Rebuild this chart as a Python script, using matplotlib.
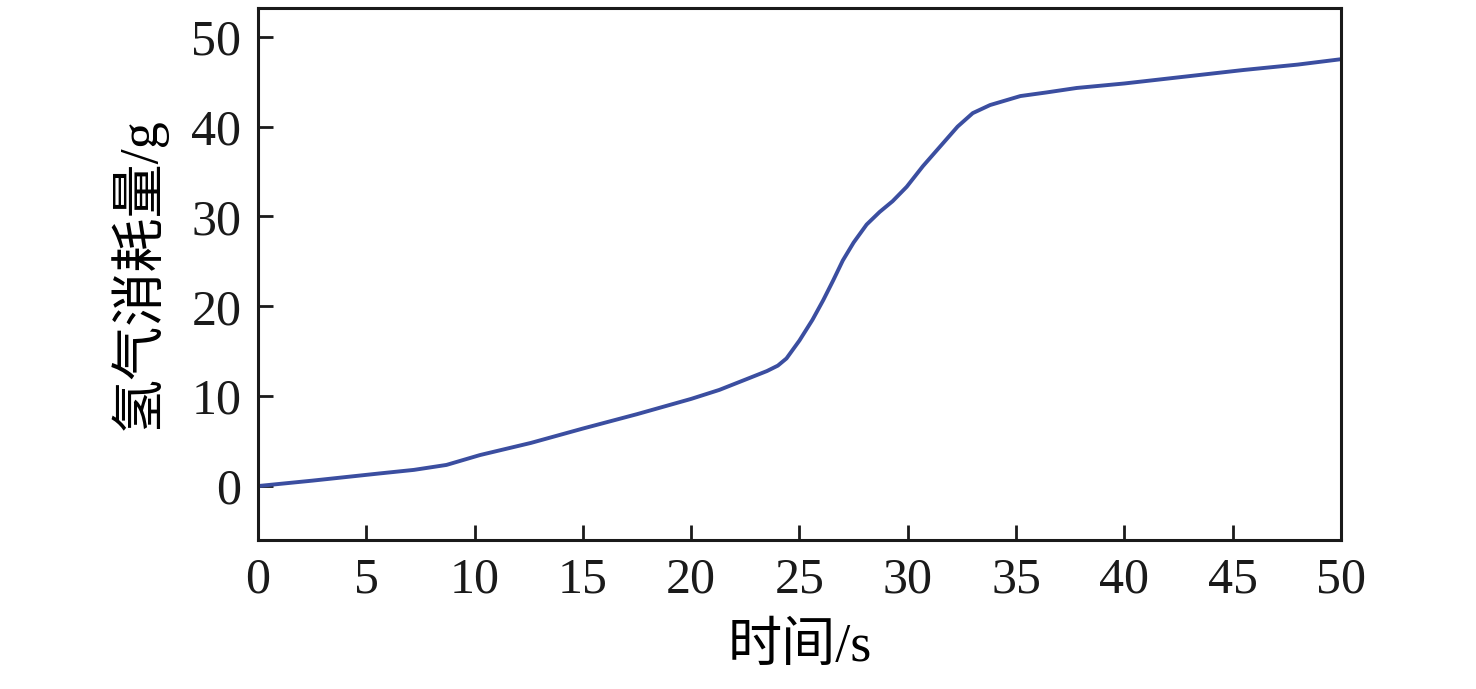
import matplotlib
matplotlib.use("Agg")
import matplotlib.pyplot as plt

time_s = [0, 2.5, 5.6, 7.2, 8.7, 10.25, 12.6, 15, 17.5, 20, 21.3, 22.56, 23.5,
          24.0, 24.4, 25.0, 25.6, 26.1, 26.56, 27.0, 27.5, 28.1, 28.7, 29.3, 29.95,
          30.7, 31.5, 32.3, 33.0, 33.8, 35.2, 36.4, 37.8, 40, 42.2, 45.5, 48, 50]
h2_g = [0, 0.6, 1.4, 1.8, 2.35, 3.45, 4.8, 6.4, 8.0, 9.7, 10.7, 11.9, 12.8,
        13.4, 14.2, 16.2, 18.5, 20.7, 22.9, 25.1, 27.1, 29.1, 30.5, 31.7, 33.3,
        35.6, 37.8, 40.0, 41.5, 42.4, 43.4, 43.8, 44.3, 44.8, 45.4, 46.3, 46.9, 47.5]

xticks = [0, 5, 10, 15, 20, 25, 30, 35, 40, 45, 50]
yticks = [0, 10, 20, 30, 40, 50]
xlabel = "时间/s"
ylabel = "氢气消耗量/g"

fam = ['Liberation Serif', 'Noto Sans CJK SC']
plt.rcParams['font.family'] = fam

fig = plt.figure(figsize=(14.76, 6.89), dpi=100)
ax = fig.add_axes([0.1748, 0.2163, 0.9085 - 0.1748, 0.9884 - 0.2163])
ax.plot(time_s, h2_g, color='#3b4ea0', lw=2.8, solid_capstyle='round',
        solid_joinstyle='round')
ax.set_xlim(0, 50)
ax.set_ylim(-6, 53.2)
ax.set_xticks(xticks)
ax.set_yticks(yticks)
for s in ax.spines.values():
    s.set_linewidth(2.2)
    s.set_color('#1a1a1a')
ax.tick_params(direction='in', length=11, width=2, colors='#1a1a1a',
               labelsize=36, top=False, right=False)
ax.tick_params(axis='x', pad=12)
ax.tick_params(axis='y', pad=12)
ax.set_xlabel(xlabel, fontsize=39, labelpad=14, family=fam, fontweight='light')
ax.set_ylabel(ylabel, fontsize=39, labelpad=18, family=fam, fontweight='light')
fig.savefig("out.png", dpi=100)
